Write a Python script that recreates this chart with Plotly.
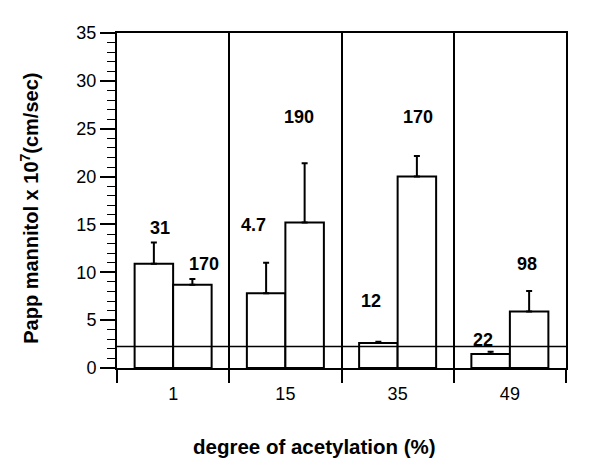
import plotly.graph_objects as go

categories = ["1", "15", "35", "49"]
series_a = [10.9, 7.8, 2.6, 1.45]
series_a_err = [2.2, 3.2, 0.15, 0.25]
series_b = [8.7, 15.2, 20.0, 5.9]
series_b_err = [0.6, 6.2, 2.15, 2.15]
labels_a = ["31", "4.7", "12", "22"]
labels_b = ["170", "190", "170", "98"]
baseline = 2.25

FONT = "Liberation Sans, Arial, Helvetica, sans-serif"

fig = go.Figure()
for vals, errs in [(series_a, series_a_err), (series_b, series_b_err)]:
    fig.add_trace(go.Bar(
        x=categories, y=vals,
        marker=dict(color="white", line=dict(color="black", width=2)),
        error_y=dict(type="data", array=errs, arrayminus=[0]*len(errs),
                     symmetric=False, color="black", thickness=2, width=3),
        showlegend=False,
    ))

# label offsets (pixels) relative to error-bar tops
shift_a = [(6, 15), (-13, 38), (-7, 41), (-8, 12)]
shift_b = [(12, 15), (-6, 46), (1, 39), (-2, 27)]
for i, c in enumerate(categories):
    for vals, errs, labs, shifts, off in [
        (series_a, series_a_err, labels_a, shift_a, -0.171),
        (series_b, series_b_err, labels_b, shift_b, 0.171),
    ]:
        fig.add_annotation(
            x=i + off, y=vals[i] + errs[i], xref="x", yref="y",
            text="<b>%s</b>" % labs[i], showarrow=False,
            xshift=shifts[i][0], yshift=shifts[i][1],
            font=dict(family=FONT, size=18, color="black"),
        )

fig.add_hline(y=baseline, line=dict(color="black", width=1.5))

fig.add_annotation(
    x=-0.194, y=0.478, xref="paper", yref="paper",
    xanchor="center", yanchor="middle",
    text="<b>Papp mannitol x 10<sup>7</sup>(cm/sec)</b>", textangle=-90,
    showarrow=False, font=dict(family=FONT, size=20, color="black"),
)
fig.add_annotation(
    x=0.44, y=-0.235, xref="paper", yref="paper",
    xanchor="center", yanchor="middle",
    text="<b>degree of acetylation (%)</b>",
    showarrow=False, font=dict(family=FONT, size=20.5, color="black"),
)

fig.update_layout(
    width=592, height=458,
    margin=dict(l=109, r=34, t=25, b=98),
    plot_bgcolor="white", paper_bgcolor="white",
    barmode="group", bargap=0.314, bargroupgap=0,
    font=dict(family=FONT, size=18, color="black"),
)
fig.update_xaxes(
    type="category", range=[-0.5, 3.5],
    tickson="boundaries", ticks="outside", ticklen=13, tickwidth=2, tickcolor="black",
    ticklabelstandoff=8,
    showgrid=True, gridcolor="black", gridwidth=2,
    showline=True, linecolor="black", linewidth=2, mirror=True,
    tickfont=dict(family=FONT, size=18, color="black"),
)
fig.update_yaxes(
    range=[0, 35], dtick=5, ticks="outside", ticklen=15, tickwidth=1.5, tickcolor="black",
    minor=dict(dtick=1, ticks="outside", ticklen=8, tickwidth=1, tickcolor="black", showgrid=False),
    showgrid=False, zeroline=False,
    showline=True, linecolor="black", linewidth=2, mirror=True,
    tickfont=dict(family=FONT, size=18, color="black"),
)

fig.write_html("out.html")
